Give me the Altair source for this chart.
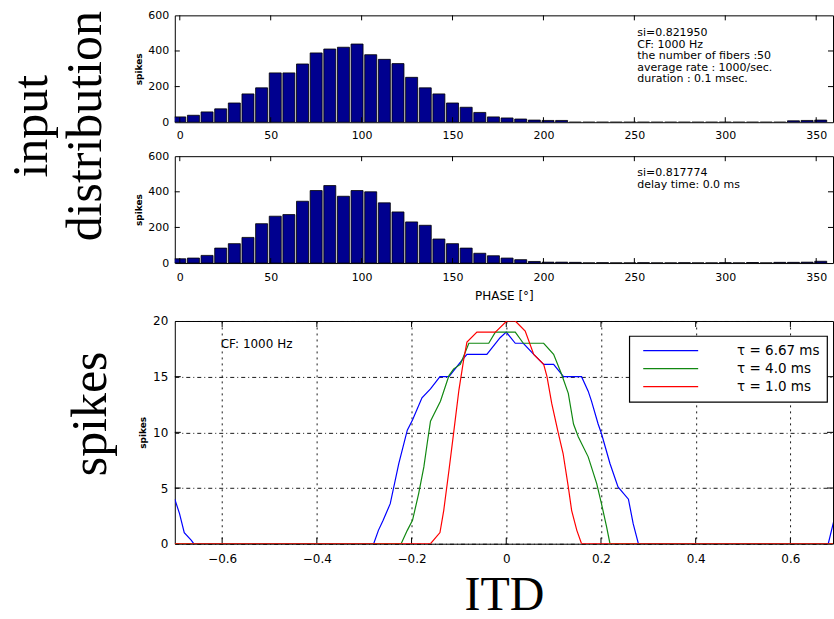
import altair as alt
import pandas as pd

# ---------------- data ----------------
PHASE_BINS = [0, 7.5, 15, 22.5, 30, 37.5, 45, 52.5, 60, 67.5, 75, 82.5, 90, 97.5,
              105, 112.5, 120, 127.5, 135, 142.5, 150, 157.5, 165, 172.5, 180, 187.5,
              195, 202.5, 210, 217.5, 225, 232.5, 240, 247.5, 255, 262.5, 270, 277.5,
              285, 292.5, 300, 307.5, 315, 322.5, 330, 337.5, 345, 352.5]
HIST1 = [30, 39, 58, 75, 108, 159, 193, 277, 277, 327, 389, 411, 421, 439, 379, 353,
         329, 252, 193, 159, 108, 84, 55, 30, 24, 18, 12, 10, 10, 0, 0, 0, 0, 0, 0, 0,
         0, 0, 0, 0, 0, 0, 0, 0, 0, 8, 10, 12]
HIST2 = [24, 28, 43, 84, 109, 144, 221, 263, 272, 347, 407, 435, 375, 407, 400, 338,
         287, 231, 212, 135, 109, 84, 55, 41, 28, 19, 9, 5, 5, 4, 1, 2, 1, 1, 2, 1,
         1, 2, 1, 1, 2, 1, 3, 1, 4, 4, 5, 10]
PHASE_TICKS = [0, 50, 100, 150, 200, 250, 300, 350]
HIST_YTICKS = [0, 200, 400, 600]
NOTES1 = ["si=0.821950", "CF: 1000 Hz", "the number of fibers :50",
          "average rate : 1000/sec.", "duration : 0.1 msec."]
NOTES2 = ["si=0.817774", "delay time: 0.0 ms"]

SERIES = ["\u03c4 = 6.67 ms", "\u03c4 = 4.0 ms", "\u03c4 = 1.0 ms"]
COLORS = ["#0000ff", "#118811", "#ff0000"]
ITD_B = [-0.70, -0.69, -0.68, -0.665, -0.66, -0.28, -0.27, -0.26, -0.245, -0.227,
         -0.209, -0.198, -0.178, -0.16, -0.14, -0.121, -0.093, -0.083, -0.041, -0.013,
         0.0, 0.019, 0.036, 0.058, 0.079, 0.10, 0.121, 0.159, 0.173, 0.18,
         0.194, 0.201, 0.219, 0.236, 0.258, 0.268, 0.279, 0.68, 0.70]
SPK_B = [4.0, 2.7, 1.0, 0.3, 0, 0, 1.2, 2.1, 3.6, 7.2,
         10.2, 11.1, 13.1, 13.9, 15, 15, 16.5, 17, 17, 18.5,
         19, 18, 18, 17, 16.1, 16.1, 15, 15, 13.7, 12.8,
         10.75, 9.9, 7.2, 5.1, 4.0, 1.8, 0, 0, 3.5]
ITD_G = [-0.70, -0.222, -0.209, -0.198, -0.185, -0.174, -0.167, -0.160, -0.153, -0.139,
         -0.121, -0.111, -0.097, -0.079, -0.037, -0.023, 0.019, 0.036, 0.079, 0.100,
         0.117, 0.131, 0.142, 0.152, 0.173, 0.191, 0.201, 0.212, 0.219, 0.70]
SPK_G = [0, 0, 1.2, 2.1, 4.5, 6.9, 9.0, 11.0, 11.6, 12.8,
         15.1, 15.7, 16.1, 18, 18, 19, 19, 18, 18, 17,
         15.2, 13.5, 10.75, 9.6, 7.8, 5.4, 3.6, 1.5, 0, 0]
ITD_R = [-0.70, -0.160, -0.140, -0.132, -0.121, -0.111, -0.100, -0.090, -0.083, -0.062,
         -0.023, 0.001, 0.019, 0.040, 0.058, 0.079, 0.086, 0.096, 0.110, 0.120,
         0.131, 0.138, 0.149, 0.159, 0.70]
SPK_R = [0, 0, 1.0, 3.0, 6.6, 10.0, 13.8, 16.5, 18.1, 19,
         19, 20, 20, 19.1, 17, 16.1, 15, 12.6, 9.9, 8.1,
         5.1, 3.0, 1.2, 0, 0]
ITD_TICKS = [-0.6, -0.4, -0.2, 0, 0.2, 0.4, 0.6]
SPK_TICKS = [0, 5, 10, 15, 20]

# ---------------- styling ----------------
FONT = "DejaVu Sans"
SERIF = "Liberation Serif"
BAR = "#00008f"
W = 659
HH = 107
LH = 223
GAP1 = 34
GAP2 = 58
one = pd.DataFrame({"z": [0]})

x_h = alt.Scale(domain=[0, 356.5], nice=False, zero=False)
y_h = alt.Scale(domain=[0, 600], nice=False)


def hist_panel(counts, notes, note_y, xtitle, lab_pad, extra):
    df = pd.DataFrame({"phase": PHASE_BINS, "count": counts})
    ax_x = alt.Axis(values=PHASE_TICKS, ticks=False, domain=False, grid=False,
                    labelFlush=False, labelFont=FONT, labelFontSize=11,
                    labelColor="black", labelPadding=lab_pad, title=xtitle,
                    titleFont=FONT, titleFontSize=12, titleFontWeight="normal",
                    titleColor="black", titlePadding=8)
    ax_y = alt.Axis(values=HIST_YTICKS, ticks=False, domain=False, grid=False,
                    labelFlush=False, labelFont=FONT, labelFontSize=11,
                    labelColor="black", labelPadding=6, title="spikes",
                    titleFont=FONT, titleFontSize=9, titleFontWeight="bold",
                    titleColor="black", titlePadding=4)
    bars = alt.Chart(df).mark_bar(size=12, fill=BAR, stroke="black",
                                  strokeWidth=0.8, clip=True).encode(
        x=alt.X("phase:Q", scale=x_h, axis=ax_x),
        y=alt.Y("count:Q", scale=y_h, axis=ax_y))
    xt = pd.DataFrame({"v": PHASE_TICKS})
    yt = pd.DataFrame({"v": [200, 400]})
    xt_b = alt.Chart(xt).mark_rule(color="black").encode(
        x=alt.X("v:Q", scale=x_h, axis=ax_x), y=alt.value(HH), y2=alt.value(HH - 5))
    xt_t = alt.Chart(xt).mark_rule(color="black").encode(
        x=alt.X("v:Q", scale=x_h, axis=ax_x), y=alt.value(0), y2=alt.value(5))
    yt_l = alt.Chart(yt).mark_rule(color="black").encode(
        y=alt.Y("v:Q", scale=y_h, axis=ax_y), x=alt.value(0), x2=alt.value(5))
    yt_r = alt.Chart(yt).mark_rule(color="black").encode(
        y=alt.Y("v:Q", scale=y_h, axis=ax_y), x=alt.value(W), x2=alt.value(W - 5))
    txt = alt.Chart(one).mark_text(text=notes, align="left", baseline="middle",
                                   font=FONT, fontSize=11, lineHeight=11.5,
                                   color="black").encode(
        x=alt.value(463), y=alt.value(note_y))
    return alt.layer(bars, xt_b, xt_t, yt_l, yt_r, txt, *extra).properties(
        width=W, height=HH)


big_input = alt.Chart(one).mark_text(
    text=["input", "distribution"], angle=270, font=SERIF, fontSize=50,
    lineHeight=54, align="center", baseline="middle", color="black").encode(
    x=alt.value(-143), y=alt.value(111))
anchor = alt.Chart(one).mark_rule(color="white", strokeWidth=0.5).encode(
    x=alt.value(-174), x2=alt.value(-173.9), y=alt.value(-14), y2=alt.value(-14))

h1 = hist_panel(HIST1, NOTES1, 18, None, 7.5, [big_input, anchor])
h2 = hist_panel(HIST2, NOTES2, 17, "PHASE [\u00b0]", 8, [])


def spacer(h):
    return alt.Chart(one).mark_point(opacity=0).encode(
        x=alt.value(0), y=alt.value(0)).properties(
        width=W, height=h, view=alt.ViewBackground(stroke="transparent"))


# ---------------- ITD panel ----------------
frames = []
for name, xs, ys in zip(SERIES, [ITD_B, ITD_G, ITD_R], [SPK_B, SPK_G, SPK_R]):
    frames.append(pd.DataFrame({"itd": xs, "spk": ys, "series": name}))

x_l = alt.Scale(domain=[-0.7, 0.69], nice=False, zero=False)
y_l = alt.Scale(domain=[0, 20], nice=False)
ax_lx = alt.Axis(values=ITD_TICKS, ticks=False, domain=False, grid=True,
                 gridColor="black", gridDash=[2, 4], gridWidth=0.9, gridOpacity=1,
                 labelFlush=False, labelFont=FONT, labelFontSize=12,
                 labelColor="black", labelPadding=10,
                 labelExpr="datum.value == 0 ? '0' : format(datum.value, '.1f')",
                 title="ITD", titleFont=SERIF, titleFontSize=48,
                 titleFontWeight="normal", titleColor="black", titlePadding=7)
ax_ly = alt.Axis(values=SPK_TICKS, ticks=False, domain=False, grid=True,
                 gridColor="black", gridDash=[4, 3, 1, 3], gridWidth=0.9,
                 gridOpacity=1, labelFlush=False, labelFont=FONT, labelFontSize=12,
                 labelColor="black", labelPadding=7, title="spikes",
                 titleFont=FONT, titleFontSize=9, titleFontWeight="bold",
                 titleColor="black", titlePadding=5)
# legend lives at the top level of the concat: its offsets are measured from
# the first panel's plot origin
LEG_Y = 15 + HH + GAP1 + HH + GAP2
col = alt.Color("series:N", scale=alt.Scale(domain=SERIES, range=COLORS),
                legend=alt.Legend(title=None, orient="none", legendX=455,
                                  legendY=LEG_Y,
                                  direction="vertical", symbolType="stroke",
                                  symbolSize=3025, symbolStrokeWidth=1.3,
                                  symbolOffset=6, labelFont=FONT, labelFontSize=13.5,
                                  labelColor="black", labelOffset=38,
                                  clipHeight=15.5, rowPadding=2, padding=7,
                                  strokeColor="black", fillColor="white"))
lines = [alt.Chart(f).mark_line(strokeWidth=1.2, clip=True).encode(
    x=alt.X("itd:Q", scale=x_l, axis=ax_lx),
    y=alt.Y("spk:Q", scale=y_l, axis=ax_ly),
    color=col) for f in frames]

lxt = pd.DataFrame({"v": ITD_TICKS})
lyt = pd.DataFrame({"v": [5, 10, 15]})
l_xb = alt.Chart(lxt).mark_rule(color="black").encode(
    x=alt.X("v:Q", scale=x_l, axis=ax_lx), y=alt.value(LH), y2=alt.value(LH - 6))
l_xt = alt.Chart(lxt).mark_rule(color="black").encode(
    x=alt.X("v:Q", scale=x_l, axis=ax_lx), y=alt.value(0), y2=alt.value(6))
l_yl = alt.Chart(lyt).mark_rule(color="black").encode(
    y=alt.Y("v:Q", scale=y_l, axis=ax_ly), x=alt.value(0), x2=alt.value(6))
l_yr = alt.Chart(lyt).mark_rule(color="black").encode(
    y=alt.Y("v:Q", scale=y_l, axis=ax_ly), x=alt.value(W), x2=alt.value(W - 6))
cf = alt.Chart(one).mark_text(text="CF: 1000 Hz", align="left", baseline="middle",
                              font=FONT, fontSize=12, color="black").encode(
    x=alt.value(46), y=alt.value(23))
big_spikes = alt.Chart(one).mark_text(
    text="spikes", angle=270, font=SERIF, fontSize=50, align="center",
    baseline="middle", color="black").encode(x=alt.value(-84), y=alt.value(93))

lc = alt.layer(l_xb, l_xt, l_yl, l_yr, *lines, cf, big_spikes).properties(
    width=W, height=LH)

chart = alt.vconcat(h1, spacer(GAP1), h2, spacer(GAP2), lc, spacing=0,
                    bounds="flush").properties(padding=0).configure_view(
    stroke="black", strokeWidth=1).configure_legend(strokeWidth=1.2)

chart.save("out.html", embed_options={"renderer": "svg", "actions": False})
